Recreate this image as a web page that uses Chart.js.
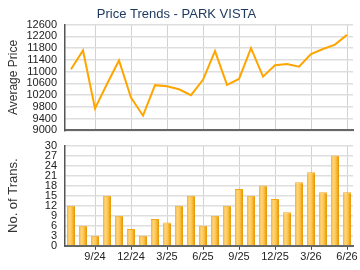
<!DOCTYPE html>
<html><head><meta charset="utf-8">
<script src="https://cdn.jsdelivr.net/npm/chart.js@4/dist/chart.umd.min.js"></script>
<style>
html,body{margin:0;padding:0;background:#fff;}
#wrap{position:relative;width:360px;height:270px;overflow:hidden;}
canvas{position:absolute;left:0;}
#c1{top:0;z-index:2;}
#c2{top:132px;z-index:1;}
</style></head><body>
<div id="wrap">
<canvas id="c1" width="360" height="145"></canvas>
<canvas id="c2" width="360" height="138"></canvas>
</div>
<script>
const months = ["7/24","8/24","9/24","10/24","11/24","12/24","1/25","2/25","3/25","4/25","5/25","6/25","7/25","8/25","9/25","10/25","11/25","12/25","1/26","2/26","3/26","4/26","5/26","6/26"];
const avgPrice = [11080,11720,9750,10580,11380,10120,9500,10540,10500,10400,10200,10720,11700,10550,10750,11800,10830,11220,11260,11170,11600,11770,11920,12250];
const transactions = [12,6,3,15,9,5,3,8,7,12,15,6,9,12,17,15,18,14,10,19,22,16,27,16];
const priceTicks = {min:9000, max:12600, step:400};
const transTicks = {min:0, max:30, step:3};

const FONT = "'Liberation Sans', Arial, sans-serif";
const shown = i => i % 3 === 2;
const fixW = s => { s.width = 65; };
const plain = v => String(v);

function xAxis(showLabels){
  return {
    type:'category', offset:true,
    grid:{offset:false, color:c=>shown(c.index)?'#d2d2d2':'rgba(0,0,0,0)', lineWidth:1,
          drawTicks:showLabels, tickLength:4, tickColor:c=>shown(c.index)?'#444':'rgba(0,0,0,0)'},
    border:{display:true, color:'#666', width:2},
    ticks:{display:showLabels, autoSkip:false, maxRotation:0, padding:1,
           color:'#222', font:{family:FONT,size:11},
           callback:function(v,i){return shown(i)?months[i]:'';}}
  };
}

new Chart(document.getElementById('c1'), {
  type:'line',
  data:{labels:months, datasets:[{data:avgPrice, borderColor:'#FFA500', borderWidth:2, pointRadius:0, tension:0, fill:false}]},
  options:{
    responsive:false, animation:false, devicePixelRatio:1,
    layout:{padding:{left:0,right:7,top:0,bottom:0}},
    plugins:{legend:{display:false}, tooltip:{enabled:false},
      title:{display:true, text:'Price Trends - PARK VISTA', color:'#1F3A60', font:{family:FONT,size:13,weight:'normal'}, padding:{top:7,bottom:2}}},
    scales:{
      x:xAxis(false),
      y:{min:priceTicks.min, max:priceTicks.max, afterFit:fixW,
         grid:{color:'#dedede', lineWidth:1.5, drawTicks:false},
         border:{display:true, color:'#555', width:1.5},
         ticks:{stepSize:priceTicks.step, padding:8, autoSkip:false, color:'#222', font:{family:FONT,size:11}, callback:plain},
         title:{display:true, text:'Average Price', color:'#333', font:{family:FONT,size:12}, padding:{top:6,bottom:0}}}
    }
  }
});

function barFill(ctx){
  const c = ctx.chart, xs = c.scales.x;
  if(!xs || !c.chartArea) return '#F8B83A';
  const x = xs.getPixelForValue(ctx.dataIndex);
  const w = xs.width / months.length * 0.68;
  const g = c.ctx.createLinearGradient(x - w/2, 0, x + w/2, 0);
  g.addColorStop(0, '#F7B02E');
  g.addColorStop(0.3, '#FFD57E');
  g.addColorStop(0.6, '#FBC454');
  g.addColorStop(0.85, '#EFA312');
  g.addColorStop(1, '#E39700');
  return g;
}

new Chart(document.getElementById('c2'), {
  type:'bar',
  data:{labels:months, datasets:[{data:transactions, backgroundColor:barFill, borderColor:'#F2A818', borderWidth:{top:1,left:0,right:0,bottom:0}, barPercentage:0.68, categoryPercentage:1}]},
  options:{
    responsive:false, animation:false, devicePixelRatio:1,
    layout:{padding:{left:0,right:7,top:3,bottom:5}},
    plugins:{legend:{display:false}, tooltip:{enabled:false}},
    scales:{
      x:xAxis(true),
      y:{min:transTicks.min, max:transTicks.max, afterFit:fixW,
         grid:{color:'#dedede', lineWidth:1.5, drawTicks:false},
         border:{display:true, color:'#555', width:1.5},
         ticks:{stepSize:transTicks.step, padding:8, autoSkip:false, color:'#222', font:{family:FONT,size:11,lineHeight:1}, callback:plain},
         title:{display:true, text:'No. of Trans.', color:'#333', font:{family:FONT,size:13}, padding:{top:6,bottom:0}}}
    }
  }
});
</script>
</body></html>
